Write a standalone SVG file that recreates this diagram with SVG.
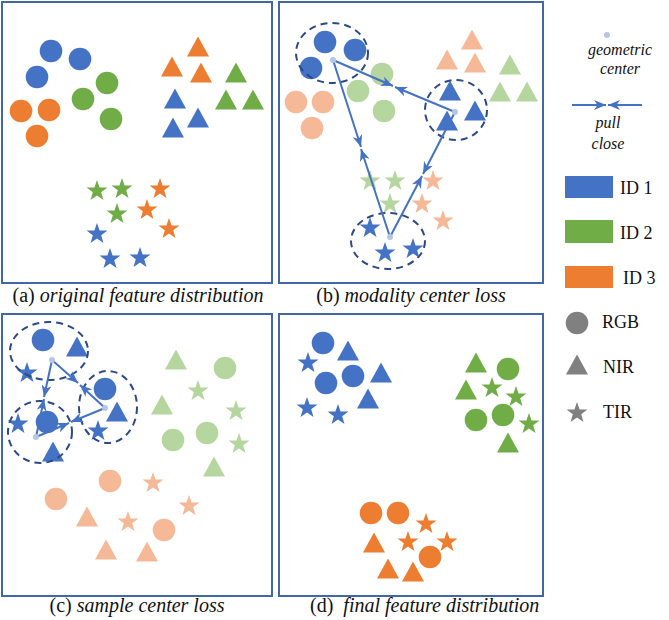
<svg xmlns="http://www.w3.org/2000/svg" xmlns:xlink="http://www.w3.org/1999/xlink" width="669" height="620" viewBox="0 0 669 620">
<style>
.panel{fill:#fff;stroke:#4267a6;stroke-width:2}
.b{fill:#4472C4}.g{fill:#70AD47}.o{fill:#ED7D31}
.lg{fill:#B6D6A0}.lo{fill:#F5B998}.gr{fill:#808080}
.ring{fill:none;stroke:#2C4A86;stroke-width:2;stroke-dasharray:7 5}
.dot{fill:#B4C7E7}
.pull{stroke:#4472C4;stroke-width:2;fill:none;marker-end:url(#ah)}
.cap{font-size:20px;fill:#111}
.it{font-style:italic}
.leg{font-size:18px;fill:#111}
.legi{font-size:16px;font-style:italic;fill:#111}
</style>
<defs>
<circle id="c" cx="0" cy="0" r="11.3"/>
<path id="t" d="M0,-10.5 L11,9.5 L-11,9.5 Z"/>
<path id="s" d="M0,-11 L2.586,-3.56 L10.462,-3.399 L4.185,1.36 L6.466,8.899 L0,4.4 L-6.466,8.899 L-4.185,1.36 L-10.462,-3.399 L-2.586,-3.56 Z"/>
<marker id="ah" viewBox="0 0 12 10" refX="12" refY="5" markerWidth="12" markerHeight="10" markerUnits="userSpaceOnUse" orient="auto">
<path d="M0,0 L12,5 L0,10 L3.5,5 Z" fill="#4472C4"/>
</marker>
</defs>

<g id="panel-a">
<rect class="panel" x="2" y="2" width="270" height="281"/>
<g id="a-circles">
<use href="#c" class="b" x="51" y="51"/><use href="#c" class="b" x="80" y="59"/><use href="#c" class="b" x="37" y="77"/>
<use href="#c" class="g" x="107" y="83"/><use href="#c" class="g" x="83" y="99"/><use href="#c" class="g" x="111" y="119"/>
<use href="#c" class="o" x="21" y="111"/><use href="#c" class="o" x="49" y="110"/><use href="#c" class="o" x="37" y="136"/>
</g>
<g id="a-triangles">
<use href="#t" class="o" x="198" y="47"/><use href="#t" class="o" x="172" y="67"/><use href="#t" class="o" x="201" y="73"/>
<use href="#t" class="g" x="236" y="73"/><use href="#t" class="g" x="226" y="100"/><use href="#t" class="g" x="253" y="100"/>
<use href="#t" class="b" x="175" y="99"/><use href="#t" class="b" x="198" y="118"/><use href="#t" class="b" x="173" y="128"/>
</g>
<g id="a-stars">
<use href="#s" class="g" x="97" y="191"/><use href="#s" class="g" x="122" y="189"/><use href="#s" class="g" x="117" y="214"/>
<use href="#s" class="o" x="160" y="189"/><use href="#s" class="o" x="147" y="210"/><use href="#s" class="o" x="169" y="229"/>
<use href="#s" class="b" x="97" y="234"/><use href="#s" class="b" x="110" y="259"/><use href="#s" class="b" x="140" y="258"/>
</g>
<text class="cap" font-family="'Liberation Serif', 'Times New Roman', 'DejaVu Serif', serif" x="138" y="302" text-anchor="middle">(a) <tspan class="it">original feature distribution</tspan></text>
</g>

<g id="panel-b">
<rect class="panel" x="279" y="2" width="264" height="281"/>
<g id="b-light">
<use href="#c" class="lg" x="382" y="74"/><use href="#c" class="lg" x="358" y="91"/><use href="#c" class="lg" x="384" y="111"/>
<use href="#c" class="lo" x="296" y="102"/><use href="#c" class="lo" x="323" y="102"/><use href="#c" class="lo" x="312" y="128"/>
<use href="#t" class="lo" x="472" y="40"/><use href="#t" class="lo" x="447" y="60"/><use href="#t" class="lo" x="475" y="63"/>
<use href="#t" class="lg" x="510" y="65"/><use href="#t" class="lg" x="500" y="92"/><use href="#t" class="lg" x="527" y="92"/>
<use href="#s" class="lg" x="370" y="181"/><use href="#s" class="lg" x="395" y="181"/><use href="#s" class="lg" x="390" y="204"/>
<use href="#s" class="lo" x="433" y="181"/><use href="#s" class="lo" x="422" y="204"/><use href="#s" class="lo" x="443" y="221"/>
</g>
<g id="b-rgb">
<use href="#c" class="b" x="325" y="42"/><use href="#c" class="b" x="355" y="50"/><use href="#c" class="b" x="311" y="68"/>
<ellipse class="ring" cx="332" cy="53" rx="36" ry="30"/>
</g>
<g id="b-nir">
<use href="#t" class="b" x="450" y="91"/><use href="#t" class="b" x="475" y="111"/><use href="#t" class="b" x="447" y="121"/>
<ellipse class="ring" cx="456" cy="110" rx="31" ry="30"/>
</g>
<g id="b-tir">
<use href="#s" class="b" x="370" y="228"/><use href="#s" class="b" x="385" y="253"/><use href="#s" class="b" x="413" y="249"/>
<ellipse class="ring" cx="388" cy="241" rx="37" ry="28"/>
</g>
<g id="b-connectors">
<line class="pull" x1="333" y1="60" x2="393" y2="86"/>
<line class="pull" x1="455" y1="112" x2="395" y2="87"/>
<line class="pull" x1="333" y1="60" x2="361" y2="147"/>
<line class="pull" x1="390" y1="237" x2="361" y2="149"/>
<line class="pull" x1="455" y1="112" x2="423" y2="174"/>
<line class="pull" x1="390" y1="237" x2="422" y2="176"/>
</g>
<circle class="dot" cx="333" cy="60" r="3"/><circle class="dot" cx="455" cy="112" r="3"/><circle class="dot" cx="390" cy="237" r="3"/>
<text class="cap" font-family="'Liberation Serif', 'Times New Roman', 'DejaVu Serif', serif" x="411" y="302" text-anchor="middle">(b) <tspan class="it">modality center loss</tspan></text>
</g>

<g id="panel-c">
<rect class="panel" x="2" y="314" width="270" height="282"/>
<g id="c-light">
<use href="#t" class="lg" x="176" y="360"/><use href="#c" class="lg" x="225" y="368"/><use href="#s" class="lg" x="198" y="391"/>
<use href="#t" class="lg" x="162" y="405"/><use href="#s" class="lg" x="236" y="411"/><use href="#c" class="lg" x="173" y="440"/>
<use href="#c" class="lg" x="207" y="433"/><use href="#s" class="lg" x="239" y="444"/><use href="#t" class="lg" x="214" y="467"/>
<use href="#c" class="lo" x="110" y="481"/><use href="#s" class="lo" x="153" y="483"/><use href="#c" class="lo" x="56" y="499"/>
<use href="#s" class="lo" x="189" y="506"/><use href="#t" class="lo" x="87" y="517"/><use href="#s" class="lo" x="128" y="522"/>
<use href="#c" class="lo" x="164" y="530"/><use href="#t" class="lo" x="106" y="550"/><use href="#t" class="lo" x="147" y="552"/>
</g>
<g id="c-sample1">
<use href="#c" class="b" x="43" y="340"/><use href="#t" class="b" x="77" y="347"/><use href="#s" class="b" x="27" y="373"/>
<ellipse class="ring" cx="49" cy="351" rx="39" ry="29"/>
</g>
<g id="c-sample2">
<use href="#c" class="b" x="105" y="389"/><use href="#t" class="b" x="117" y="412"/><use href="#s" class="b" x="98" y="431"/>
<ellipse class="ring" cx="108" cy="407" rx="29" ry="36"/>
</g>
<g id="c-sample3">
<use href="#c" class="b" x="47" y="422"/><use href="#s" class="b" x="18" y="424"/><use href="#t" class="b" x="53" y="452"/>
<ellipse class="ring" cx="40" cy="432" rx="32" ry="31"/>
</g>
<g id="c-connectors">
<line class="pull" x1="52" y1="360" x2="78" y2="383"/>
<line class="pull" x1="105" y1="408" x2="80" y2="385"/>
<line class="pull" x1="52" y1="360" x2="44" y2="397"/>
<line class="pull" x1="36" y1="437" x2="44" y2="399"/>
<line class="pull" x1="36" y1="437" x2="69" y2="423"/>
<line class="pull" x1="105" y1="408" x2="71" y2="422"/>
</g>
<circle class="dot" cx="52" cy="360" r="3"/><circle class="dot" cx="105" cy="408" r="3"/><circle class="dot" cx="36" cy="437" r="3"/>
<text class="cap" font-family="'Liberation Serif', 'Times New Roman', 'DejaVu Serif', serif" x="137" y="612" text-anchor="middle">(c) <tspan class="it">sample center loss</tspan></text>
</g>

<g id="panel-d">
<rect class="panel" x="279" y="314" width="264" height="282"/>
<g id="d-id1">
<use href="#c" class="b" x="323" y="343"/><use href="#t" class="b" x="348" y="351"/><use href="#s" class="b" x="308" y="363"/>
<use href="#c" class="b" x="326" y="383"/><use href="#c" class="b" x="353" y="376"/><use href="#t" class="b" x="381" y="373"/>
<use href="#s" class="b" x="307" y="408"/><use href="#t" class="b" x="368" y="399"/><use href="#s" class="b" x="338" y="415"/>
</g>
<g id="d-id2">
<use href="#t" class="g" x="476" y="363"/><use href="#c" class="g" x="508" y="369"/><use href="#t" class="g" x="466" y="390"/>
<use href="#s" class="g" x="492" y="388"/><use href="#s" class="g" x="516" y="397"/><use href="#c" class="g" x="476" y="420"/>
<use href="#c" class="g" x="503" y="415"/><use href="#s" class="g" x="529" y="424"/><use href="#t" class="g" x="508" y="443"/>
</g>
<g id="d-id3">
<use href="#c" class="o" x="371" y="513"/><use href="#c" class="o" x="398" y="513"/><use href="#s" class="o" x="426" y="524"/>
<use href="#t" class="o" x="374" y="543"/><use href="#s" class="o" x="408" y="542"/><use href="#s" class="o" x="447" y="542"/>
<use href="#c" class="o" x="430" y="557"/><use href="#t" class="o" x="388" y="569"/><use href="#t" class="o" x="413" y="572"/>
</g>
<text class="cap" font-family="'Liberation Serif', 'Times New Roman', 'DejaVu Serif', serif" x="310" y="612" xml:space="preserve">(d)  <tspan class="it">final feature distribution</tspan></text>
</g>

<g id="legend" font-family="'Liberation Serif', 'Times New Roman', 'DejaVu Serif', serif">
<g id="leg-center">
<circle class="dot" cx="607" cy="35" r="3"/>
<text class="legi" x="620" y="55" text-anchor="middle">geometric</text>
<text class="legi" x="620" y="74" text-anchor="middle">center</text>
</g>
<g id="leg-pull">
<line class="pull" x1="572" y1="105" x2="606" y2="105"/>
<line class="pull" x1="642" y1="105" x2="608" y2="105"/>
<text class="legi" x="608" y="128" text-anchor="middle">pull</text>
<text class="legi" x="608" y="149" text-anchor="middle">close</text>
</g>
<g id="leg-id1"><rect class="b" x="565" y="176" width="48" height="22"/><text class="leg" x="620" y="194">ID 1</text></g>
<g id="leg-id2"><rect class="g" x="565" y="220" width="48" height="23"/><text class="leg" x="620" y="239">ID 2</text></g>
<g id="leg-id3"><rect class="o" x="565" y="266" width="48" height="22"/><text class="leg" x="623" y="284">ID 3</text></g>
<g id="leg-rgb"><use href="#c" class="gr" x="577" y="323"/><text class="leg" x="602" y="328">RGB</text></g>
<g id="leg-nir"><use href="#t" class="gr" x="577" y="365"/><text class="leg" x="603" y="373">NIR</text></g>
<g id="leg-tir"><use href="#s" class="gr" x="577" y="413"/><text class="leg" x="603" y="418">TIR</text></g>
</g>
</svg>
